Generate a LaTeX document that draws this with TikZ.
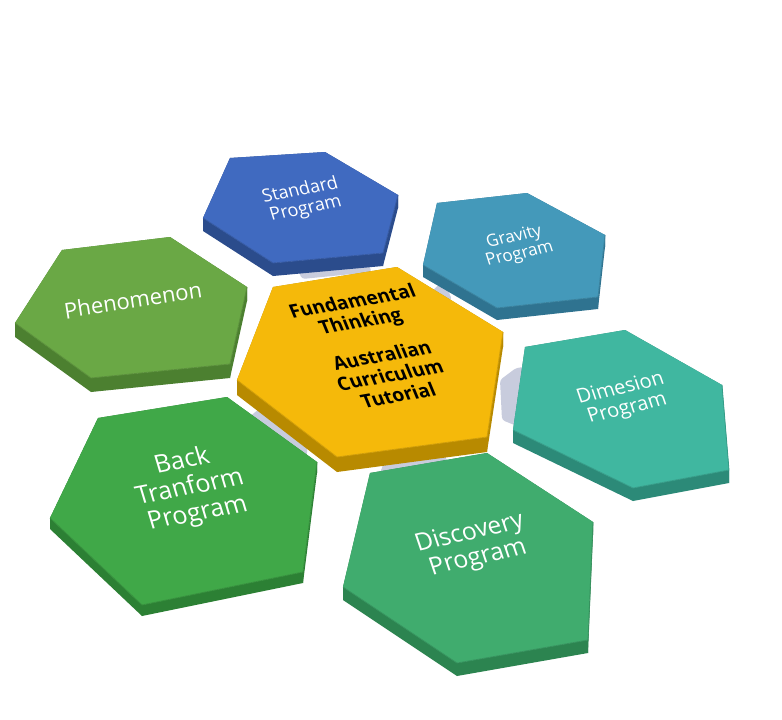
\documentclass[tikz,border=0pt]{standalone}
\usepackage{fontspec}
\setmainfont{Open Sans}
\definecolor{stdtop}{HTML}{406AC0}\definecolor{stdside}{HTML}{2B4C8C}
\definecolor{gravtop}{HTML}{4499BA}\definecolor{gravside}{HTML}{2F7390}
\definecolor{phentop}{HTML}{6AA845}\definecolor{phenside}{HTML}{4C8030}
\definecolor{centop}{HTML}{F5B90A}\definecolor{censide}{HTML}{B88A00}
\definecolor{dimtop}{HTML}{40B7A0}\definecolor{dimside}{HTML}{2C8A78}
\definecolor{backtop}{HTML}{40A848}\definecolor{backside}{HTML}{2C8034}
\definecolor{disctop}{HTML}{40AC6E}\definecolor{discside}{HTML}{2C8450}
\definecolor{plate}{HTML}{C8CCDD}
\newcommand{\hexprism}[4]{%
  \foreach \i/\j in {1/2,2/3,3/4,4/5,5/6,6/1}{%
    \fill[#3] (#1\i) -- (#1\j) -- ([yshift=-#4]#1\j) -- ([yshift=-#4]#1\i) -- cycle;
  }%
  \fill[#2] (#11) -- (#12) -- (#13) -- (#14) -- (#15) -- (#16) -- cycle;
  \draw[#2!85!black, line width=0.8pt, line join=round] (#16) -- (#15) -- (#14) -- (#13);
}
\tikzset{
  lbl/.style={text=white, align=center, inner sep=0pt},
  clbl/.style={text=black, align=center, inner sep=0pt, font=\fontsize{19}{21}\selectfont\bfseries, rotate=10, xslant=-0.22},
  platefill/.style={fill=plate, rounded corners=3pt}
}
\begin{document}
\begin{tikzpicture}[x=1pt,y=-1pt]
\useasboundingbox (0,0) rectangle (782,720);
\fill[white] (0,0) rectangle (782,720);
% hexagon vertices
\coordinate (s1) at (230,158);\coordinate (s2) at (325,152);\coordinate (s3) at (398,195);
\coordinate (s4) at (383,253);\coordinate (s5) at (273,263);\coordinate (s6) at (203,218);
\coordinate (g1) at (437,203);\coordinate (g2) at (527,193);\coordinate (g3) at (605,235);
\coordinate (g4) at (598,297);\coordinate (g5) at (497,308);\coordinate (g6) at (423,265);
\coordinate (p1) at (62,250);\coordinate (p2) at (170,237);\coordinate (p3) at (247,287);
\coordinate (p4) at (230,364);\coordinate (p5) at (91,378);\coordinate (p6) at (15,323);
\coordinate (c1) at (273,287);\coordinate (c2) at (397,267);\coordinate (c3) at (503,332);
\coordinate (c4) at (487,437);\coordinate (c5) at (337,457);\coordinate (c6) at (237,380);
\coordinate (d1) at (525,347);\coordinate (d2) at (625,330);\coordinate (d3) at (722,385);
\coordinate (d4) at (729,470);\coordinate (d5) at (633,488);\coordinate (d6) at (513,430);
\coordinate (b1) at (98,418);\coordinate (b2) at (227,397);\coordinate (b3) at (317,462);
\coordinate (b4) at (303,572);\coordinate (b5) at (142,605);\coordinate (b6) at (50,518);
\coordinate (v1) at (370,473);\coordinate (v2) at (487,453);\coordinate (v3) at (593,522);
\coordinate (v4) at (588,640);\coordinate (v5) at (457,663);\coordinate (v6) at (343,587);
% grey plates in the gaps
\fill[platefill] (296,266) -- (366,260) -- (372,272) -- (302,279) -- cycle;
\fill[platefill] (431,292) -- (444,280) -- (452,300) -- (436,302) -- cycle;
\fill[platefill] (248,418) -- (259,409) -- (301,437) -- (308,451) -- (300,470) -- (240,432) -- cycle;
\fill[platefill] (379,476) -- (384,462) -- (438,449) -- (446,457) -- (452,482) -- cycle;
\fill[platefill] (500,380) -- (516,368) -- (532,366) -- (532,432) -- (502,420) -- cycle;
% hexagons
\hexprism{s}{stdtop}{stdside}{13pt}
\hexprism{g}{gravtop}{gravside}{12pt}
\hexprism{p}{phentop}{phenside}{14pt}
\hexprism{c}{centop}{censide}{15pt}
\hexprism{d}{dimtop}{dimside}{13pt}
\hexprism{b}{backtop}{backside}{11pt}
\hexprism{v}{disctop}{discside}{13pt}
% labels
\node[lbl, font=\fontsize{18}{19}\selectfont, rotate=11, xslant=-0.1] (tstd) at (303,200) {Standard\\Program};
\node[lbl, font=\fontsize{17}{18}\selectfont, rotate=12, xslant=-0.1] (tgrav) at (517,246) {Gravity\\Program};
\node[lbl, font=\fontsize{22}{24}\selectfont, rotate=9] (tphen) at (133,300) {Phenomenon};
\node[clbl] (tcen1) at (357,313) {Fundamental\\Thinking};
\node[clbl] (tcen2) at (390,375) {Australian\\Curriculum\\Tutorial};
\node[lbl, font=\fontsize{20}{21}\selectfont, rotate=13, xslant=-0.1] (tdim) at (624,399) {Dimesion\\Program};
\node[lbl, font=\fontsize{25}{27}\selectfont, rotate=11, xslant=-0.1] (tback) at (190,488) {Back\\Tranform\\Program};
\node[lbl, font=\fontsize{24.5}{26}\selectfont, rotate=13, xslant=-0.1] (tdisc) at (474,546) {Discovery\\Program};
\end{tikzpicture}
\end{document}
